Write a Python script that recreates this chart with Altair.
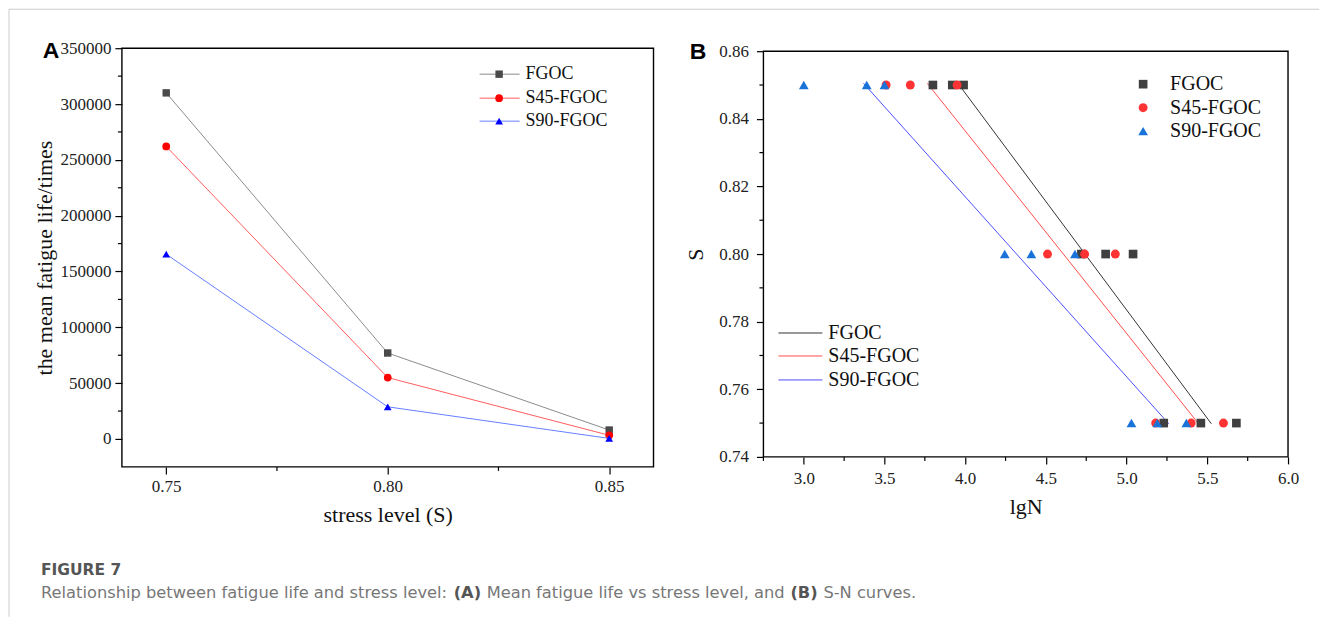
import altair as alt
import pandas as pd

# ---------------- data ----------------
series_names = ["FGOC", "S45-FGOC", "S90-FGOC"]

# Panel A: mean fatigue life vs stress level
stress_levels = [0.75, 0.80, 0.85]
mean_life_fgoc = [310000, 77000, 8000]
mean_life_s45 = [262000, 55000, 3300]
mean_life_s90 = [165500, 28800, 500]

# Panel B: S-N data (lgN at each stress level)
sn_stress = [0.85, 0.85, 0.85, 0.80, 0.80, 0.80, 0.75, 0.75, 0.75]
lgn_fgoc = [3.80, 3.92, 3.99, 4.72, 4.87, 5.04, 5.23, 5.46, 5.68]
lgn_s45 = [3.51, 3.66, 3.95, 4.51, 4.74, 4.93, 5.18, 5.40, 5.60]
lgn_s90 = [3.00, 3.39, 3.50, 4.245, 4.41, 4.68, 5.03, 5.19, 5.37]

# Panel B: fitted S-N lines (end points)
fit_s = [0.8505, 0.7498]
fit_lgn_fgoc = [3.955, 5.525]
fit_lgn_s45 = [3.765, 5.446]
fit_lgn_s90 = [3.37, 5.261]

# axis tick values (major / minor)
a_x_major = [0.75, 0.80, 0.85]
a_x_minor = [0.775, 0.825]
a_y_major = [0, 50000, 100000, 150000, 200000, 250000, 300000, 350000]
a_y_minor = [25000, 75000, 125000, 175000, 225000, 275000, 325000]
b_x_major = [3.0, 3.5, 4.0, 4.5, 5.0, 5.5, 6.0]
b_x_minor = [2.75, 3.25, 3.75, 4.25, 4.75, 5.25, 5.75]
b_y_major = [0.74, 0.76, 0.78, 0.80, 0.82, 0.84, 0.86]
b_y_minor = [0.75, 0.77, 0.79, 0.81, 0.83, 0.85]

caption_head = "FIGURE 7"
caption_parts = ["Relationship between fatigue life and stress level:", "(A)",
                 "Mean fatigue life vs stress level, and", "(B)", "S-N curves."]

# ---------------- styles ----------------
SERIF = "Liberation Serif"
CAP_FONT = "DejaVu Sans"
A_W, A_H = 532, 419
B_W, B_H = 525, 406
MINOR = 4

shapes = ["square", "circle", "triangle-up"]
a_line_colors = ["#8c8c8c", "#ff5c5c", "#6680ff"]
a_point_colors = ["#4a4a4a", "#ff0000", "#0000ff"]
a_sizes = [55, 60, 60]
b_point_colors = ["#3f3f3f", "#ff3333", "#1a73d9"]
b_line_colors = ["#333333", "#ff4d4d", "#4d4dff"]
b_sizes = [75, 80, 95]

one = pd.DataFrame({"k": [0]})


def make_axis(values, fmt, title_pad, label_pad):
    return alt.Axis(
        values=values, format=fmt,
        tickSize=7, tickColor="black", tickWidth=1.2,
        grid=False, domain=False,
        labelFont=SERIF, labelFontSize=17, labelColor="#222222",
        labelPadding=label_pad, labelOverlap=False, labelFlush=False, labelBound=False,
        titleFont=SERIF, titleFontSize=22, titleFontWeight="normal", titleColor="#111111",
        titlePadding=title_pad,
    )


def txt(text, x, y, size, font=SERIF, weight="normal", color="#111111", align="left"):
    return alt.Chart(one).mark_text(
        text=text, font=font, fontSize=size, fontWeight=weight, color=color,
        align=align, baseline="middle"
    ).encode(x=alt.value(x), y=alt.value(y))


def frame(w, h):
    return alt.Chart(one).mark_rect(fillOpacity=0, stroke="black", strokeWidth=1.4).encode(
        x=alt.value(0), x2=alt.value(w), y=alt.value(0), y2=alt.value(h))


def minor_ticks_x(values, field, xenc, h):
    df = pd.DataFrame({field: values})
    return alt.Chart(df).mark_rule(color="black", strokeWidth=1.2).encode(
        x=xenc, y=alt.value(h), y2=alt.value(h + MINOR))


def minor_ticks_y(values, field, yenc):
    df = pd.DataFrame({field: values})
    return alt.Chart(df).mark_rule(color="black", strokeWidth=1.2).encode(
        y=yenc, x=alt.value(-MINOR), x2=alt.value(0))


# ---------------- panel A ----------------
dfA = pd.DataFrame({
    "S": stress_levels * 3,
    "life": mean_life_fgoc + mean_life_s45 + mean_life_s90,
    "series": [n for n in series_names for _ in stress_levels],
})

xA = alt.X("S:Q", scale=alt.Scale(domain=[0.74, 0.86], nice=False, zero=False),
           axis=make_axis(a_x_major, ".2f", 10, 5), title="stress level (S)")
yA = alt.Y("life:Q", scale=alt.Scale(domain=[-25000, 350000], nice=False, zero=False),
           axis=make_axis(a_y_major, "d", 3, 4), title="the mean fatigue life/times")

layersA = [frame(A_W, A_H),
           minor_ticks_x(a_x_minor, "S", xA, A_H),
           minor_ticks_y(a_y_minor, "life", yA)]
for i, name in enumerate(series_names):
    base = alt.Chart(dfA).transform_filter(alt.datum.series == name)
    layersA.append(base.mark_line(color=a_line_colors[i], strokeWidth=1).encode(x=xA, y=yA))
    layersA.append(base.mark_point(shape=shapes[i], filled=True, opacity=1,
                                   size=a_sizes[i], color=a_point_colors[i]).encode(x=xA, y=yA))

# legend A
a_leg_rows = [26, 50, 73]
for i, name in enumerate(series_names):
    layersA.append(alt.Chart(one).mark_rule(color=a_line_colors[i], strokeWidth=1).encode(
        x=alt.value(358), x2=alt.value(398), y=alt.value(a_leg_rows[i])))
    layersA.append(alt.Chart(one).mark_point(shape=shapes[i], filled=True, opacity=1,
                                             size=a_sizes[i], color=a_point_colors[i]).encode(
        x=alt.value(377.5), y=alt.value(a_leg_rows[i])))
    layersA.append(txt(name, 404, a_leg_rows[i], 18))

# panel letter
layersA.append(txt("A", -71, 3, 23, font="Liberation Sans", weight="bold", color="#000000",
                   align="center"))

# outer figure frame (light grey)
layersA.append(alt.Chart(one).mark_rule(color="#cccccc", strokeWidth=1).encode(
    x=alt.value(-113), x2=alt.value(1198), y=alt.value(-39)))
layersA.append(alt.Chart(one).mark_rule(color="#cccccc", strokeWidth=1).encode(
    x=alt.value(-113), y=alt.value(-39), y2=alt.value(569)))

# caption
cap_x0 = 40 - 121
layersA.append(txt(caption_head, cap_x0, 522, 15.5, font=CAP_FONT, weight="bold",
                   color="#555555"))
cap_offsets = [0, 413, 446, 750, 783]
cap_weights = ["normal", "bold", "normal", "bold", "normal"]
for part, off, w in zip(caption_parts, cap_offsets, cap_weights):
    layersA.append(txt(part, cap_x0 + off, 545, 16.3, font=CAP_FONT, weight=w,
                       color="#555555" if w == "bold" else "#777777"))

chartA = alt.layer(*layersA).properties(width=A_W, height=A_H)

# ---------------- panel B ----------------
dfB = pd.DataFrame({
    "lgN": lgn_fgoc + lgn_s45 + lgn_s90,
    "S": sn_stress * 3,
    "series": [n for n in series_names for _ in sn_stress],
})
dfFit = pd.DataFrame({
    "lgN": fit_lgn_fgoc + fit_lgn_s45 + fit_lgn_s90,
    "S": fit_s * 3,
    "series": [n for n in series_names for _ in fit_s],
})

xB = alt.X("lgN:Q", scale=alt.Scale(domain=[2.75, 6.0], nice=False, zero=False),
           axis=make_axis(b_x_major, ".1f", 10, 7), title="lgN")
yB = alt.Y("S:Q", scale=alt.Scale(domain=[0.74, 0.86], nice=False, zero=False),
           axis=make_axis(b_y_major, ".2f", 11, 8), title="S")

layersB = [frame(B_W, B_H),
           minor_ticks_x(b_x_minor, "lgN", xB, B_H),
           minor_ticks_y(b_y_minor, "S", yB)]
for i, name in enumerate(series_names):
    layersB.append(alt.Chart(dfFit).transform_filter(alt.datum.series == name)
                   .mark_line(color=b_line_colors[i], strokeWidth=1).encode(x=xB, y=yB))
for i, name in enumerate(series_names):
    layersB.append(alt.Chart(dfB).transform_filter(alt.datum.series == name)
                   .mark_point(shape=shapes[i], filled=True, opacity=1, size=b_sizes[i],
                               color=b_point_colors[i]).encode(x=xB, y=yB))

# legend B (symbols, top right)
b_sym_rows = [33, 56.5, 80]
for i, name in enumerate(series_names):
    layersB.append(alt.Chart(one).mark_point(shape=shapes[i], filled=True, opacity=1,
                                             size=b_sizes[i], color=b_point_colors[i]).encode(
        x=alt.value(380), y=alt.value(b_sym_rows[i])))
    layersB.append(txt(name, 407, b_sym_rows[i], 20))

# legend B (fit lines, lower left)
b_line_rows = [282, 305, 329]
for i, name in enumerate(series_names):
    layersB.append(alt.Chart(one).mark_rule(color=b_line_colors[i], strokeWidth=1).encode(
        x=alt.value(15), x2=alt.value(59), y=alt.value(b_line_rows[i])))
    layersB.append(txt(name, 65, b_line_rows[i], 20))

layersB.append(txt("B", -65.5, 0.5, 23, font="Liberation Sans", weight="bold", color="#000000",
                   align="center"))

chartB = alt.layer(*layersB).properties(width=B_W, height=B_H)

spacer = alt.Chart(one).mark_point(opacity=0).properties(width=B_W, height=1)
colB = alt.vconcat(spacer, chartB, spacing=2, bounds="flush")

chart = alt.hconcat(chartA, colB, spacing=110, bounds="flush").properties(
    padding={"left": 0, "top": 0, "right": 0, "bottom": 0}
).configure_view(stroke=None).configure_axis(
    labelFont=SERIF, labelFontSize=17, labelColor="#222222",
    titleFont=SERIF, titleFontWeight="normal"
)

chart.save("out.html", embed_options={"renderer": "svg", "actions": False})
